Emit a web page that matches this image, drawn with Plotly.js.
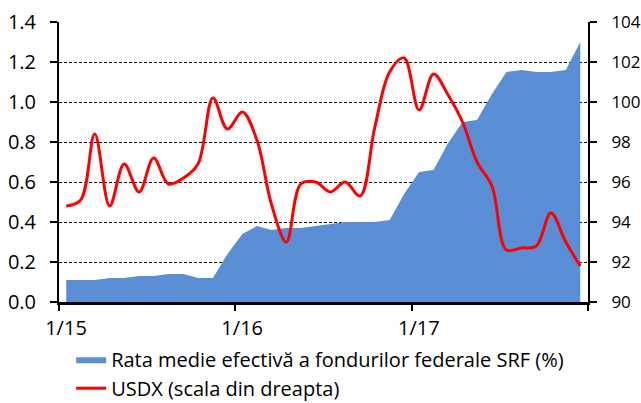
<!DOCTYPE html>
<html>
<head>
<meta charset="utf-8">
<script src="https://cdn.plot.ly/plotly-3.0.1.min.js"></script>
<style>html,body{margin:0;padding:0;background:#fff;}#chart{width:641px;height:403px;}</style>
</head>
<body>
<div id="chart"></div>
<script>
// Monthly dates (mid-month), Jan 2015 - Dec 2017
const months = [
  '2015-01-16','2015-02-15','2015-03-16','2015-04-16','2015-05-16','2015-06-16',
  '2015-07-16','2015-08-16','2015-09-16','2015-10-16','2015-11-16','2015-12-16',
  '2016-01-16','2016-02-15','2016-03-16','2016-04-16','2016-05-16','2016-06-16',
  '2016-07-16','2016-08-16','2016-09-16','2016-10-16','2016-11-16','2016-12-16',
  '2017-01-16','2017-02-15','2017-03-16','2017-04-16','2017-05-16','2017-06-16',
  '2017-07-16','2017-08-16','2017-09-16','2017-10-16','2017-11-16','2017-12-16'
];
// Effective federal funds rate (%), left axis
const fedFunds = [
  0.11,0.11,0.11,0.12,0.12,0.13,0.13,0.14,0.14,0.12,0.12,0.24,
  0.34,0.38,0.36,0.37,0.37,0.38,0.39,0.40,0.40,0.40,0.41,0.54,
  0.65,0.66,0.79,0.90,0.91,1.04,1.15,1.16,1.15,1.15,1.16,1.30
];
// USDX index, right axis
const usdx = [
  94.8,95.1,98.4,94.8,96.9,95.5,97.2,95.9,96.2,96.9,100.2,98.65,
  99.5,98.1,94.9,93.0,95.9,96.0,95.5,96.0,95.3,98.7,101.5,102.2,
  99.6,101.4,100.4,99.0,97.0,95.8,92.6,92.7,92.8,94.45,93.0,91.8
];
const tickDates = ['2015-01-01','2016-01-01','2017-01-01','2018-01-01'];
const tickLabels = ['1/15','1/16','1/17',''];
const nameFed = 'Rata medie efectivă a fondurilor federale SRF (%)';
const nameUsdx = 'USDX (scala din dreapta)';

const FONT = '"Open Sans", sans-serif';
const FS = 20;

const traces = [
  {
    x: months, y: fedFunds, name: nameFed, type: 'scatter', mode: 'lines',
    fill: 'tozeroy', fillcolor: '#5A8FD6', line: {width: 0, color: '#5A8FD6'},
    legendgroup: 'a', yaxis: 'y', hoverinfo: 'skip'
  },
  {
    x: months, y: usdx, name: nameUsdx, type: 'scatter', mode: 'lines',
    line: {color: '#FF0000', width: 3, shape: 'spline', smoothing: 1},
    legendgroup: 'b', yaxis: 'y2', hoverinfo: 'skip'
  }
];

const layout = {
  width: 641, height: 403,
  margin: {l: 59, r: 53, t: 22, b: 101, pad: 0, autoexpand: false},
  paper_bgcolor: '#fff', plot_bgcolor: '#fff',
  font: {family: FONT, size: FS, color: '#000'},
  showlegend: true,
  legend: {
    x: 0.023, xanchor: 'left', y: -0.135, yanchor: 'top',
    traceorder: 'grouped', tracegroupgap: 0, itemwidth: 30,
    font: {family: FONT, size: FS, color: '#000'}, bgcolor: 'rgba(0,0,0,0)'
  },
  xaxis: {
    type: 'date', range: ['2015-01-01', '2018-01-01'],
    tickmode: 'array', tickvals: tickDates, ticktext: tickLabels,
    ticklabelshift: 7,
    ticks: 'outside', ticklen: 6, tickwidth: 2, tickcolor: '#000',
    showline: true, linecolor: '#000', linewidth: 3,
    showgrid: false, zeroline: false, fixedrange: true,
    tickfont: {family: FONT, size: FS, color: '#000'}
  },
  yaxis: {
    range: [0, 1.4], tickmode: 'linear', tick0: 0, dtick: 0.2, tickformat: '.1f',
    ticks: 'outside', ticklen: 7, tickwidth: 2, tickcolor: '#000',
    showline: true, linecolor: '#000', linewidth: 2,
    showgrid: true, gridcolor: '#000', gridwidth: 1, griddash: '3px,2px',
    zeroline: false, fixedrange: true, ticklabelstandoff: 10,
    tickfont: {family: FONT, size: FS, color: '#000'}
  },
  yaxis2: {
    range: [90, 104], tickmode: 'linear', tick0: 90, dtick: 2,
    overlaying: 'y', side: 'right',
    ticks: 'outside', ticklen: 7, tickwidth: 2, tickcolor: '#000',
    showline: true, linecolor: '#000', linewidth: 2,
    showgrid: false, zeroline: false, fixedrange: true, ticklabelstandoff: 11,
    tickfont: {family: FONT, size: 17, color: '#000'}
  }
};

Plotly.newPlot('chart', traces, layout, {staticPlot: true, displayModeBar: false});
</script>
</body>
</html>
